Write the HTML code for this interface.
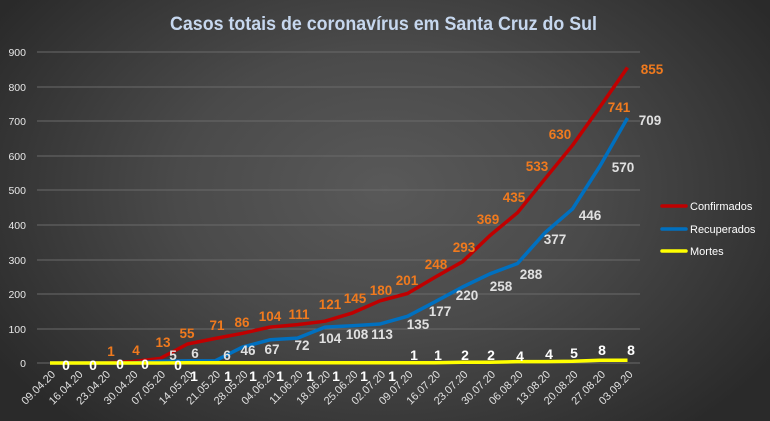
<!DOCTYPE html>
<html><head><meta charset="utf-8"><style>
html,body{margin:0;padding:0;width:770px;height:421px;overflow:hidden}
body{background:radial-gradient(ellipse 60% 75% at 50% 45%,#595959 0%,#4a4a4a 45%,#2a2a2a 100%)}
svg{display:block;font-family:"Liberation Sans",sans-serif}
</style></head><body>
<svg width="770" height="421" viewBox="0 0 770 421">
<text x="170" y="30" font-size="19" fill="#c6d7ee" font-weight="bold" textLength="427" lengthAdjust="spacingAndGlyphs">Casos totais de coronavírus  em Santa Cruz do Sul</text>
<g stroke="#6a6a6a" stroke-width="1">
<line x1="37" x2="640" y1="52" y2="52"/><line x1="37" x2="640" y1="87" y2="87"/><line x1="37" x2="640" y1="121" y2="121"/><line x1="37" x2="640" y1="156" y2="156"/><line x1="37" x2="640" y1="190" y2="190"/><line x1="37" x2="640" y1="225" y2="225"/><line x1="37" x2="640" y1="260" y2="260"/><line x1="37" x2="640" y1="294" y2="294"/><line x1="37" x2="640" y1="329" y2="329"/><line x1="37" x2="640" y1="363" y2="363"/>
</g>
<g font-size="10.5" fill="#e8e8e8" text-anchor="end">
<text x="26" y="56">900</text><text x="26" y="91">800</text><text x="26" y="125">700</text><text x="26" y="160">600</text><text x="26" y="194">500</text><text x="26" y="229">400</text><text x="26" y="264">300</text><text x="26" y="298">200</text><text x="26" y="333">100</text><text x="26" y="367">0</text>
</g>
<polyline fill="none" stroke="#c00000" stroke-width="3.5" stroke-linejoin="round" points="50,363 77.5,363 105,362.7 132.5,361.6 160,358.5 187.5,344 215,338.5 242.5,333.3 270,327.1 297.5,324.6 325,321.2 352.5,312.9 380,300.8 407.5,293.5 435,277.3 462.5,261.7 490,235.5 517.5,212.7 545,178.8 572.5,145.3 600,106.9 627.5,67.5"/>
<polyline fill="none" stroke="#0070c0" stroke-width="3.5" stroke-linejoin="round" points="50,363 77.5,363 105,363 132.5,363 160,361.3 187.5,360.9 215,360.9 242.5,347.1 270,339.8 297.5,338.1 325,327.1 352.5,325.7 380,324 407.5,316.3 435,301.8 462.5,287 490,273.8 517.5,263.5 545,232.7 572.5,208.9 600,166 627.5,118"/>
<polyline fill="none" stroke="#ffff00" stroke-width="3.5" points="50,363 77.5,363 105,363 132.5,363 160,363 187.5,362.7 215,362.7 242.5,362.7 270,362.7 297.5,362.7 325,362.7 352.5,362.7 380,362.7 407.5,362.7 435,362.7 462.5,362.3 490,362.3 517.5,361.6 545,361.6 572.5,361.3 600,360.2 627.5,360.2"/>
<g font-size="13.5" font-weight="bold" fill="#f07a1e" text-anchor="middle">
<text x="111" y="356">1</text><text x="136" y="355">4</text><text x="163" y="347">13</text><text x="187" y="338">55</text><text x="217" y="330">71</text><text x="242" y="327">86</text><text x="270" y="321">104</text><text x="299" y="319">111</text><text x="330" y="309">121</text><text x="355" y="303">145</text><text x="381" y="295">180</text><text x="407" y="285">201</text><text x="436" y="269">248</text><text x="464" y="252">293</text><text x="488" y="224">369</text><text x="514" y="202">435</text><text x="537" y="171">533</text><text x="560" y="139">630</text><text x="619" y="112">741</text><text x="652" y="74">855</text>
</g>
<g font-size="13.5" font-weight="bold" fill="#e0e0e0" text-anchor="middle">
<text x="173" y="360">5</text><text x="195" y="358">6</text><text x="227" y="360">6</text><text x="248" y="355">46</text><text x="272" y="354">67</text><text x="302" y="350">72</text><text x="330" y="343">104</text><text x="357" y="339">108</text><text x="382" y="339">113</text><text x="418" y="329">135</text><text x="440" y="316">177</text><text x="467" y="300">220</text><text x="501" y="291">258</text><text x="531" y="279">288</text><text x="555" y="244">377</text><text x="590" y="220">446</text><text x="623" y="172">570</text><text x="650" y="125">709</text>
</g>
<g font-size="14" font-weight="bold" fill="#ffffff" text-anchor="middle">
<text x="66" y="370">0</text><text x="93" y="370">0</text><text x="120" y="369">0</text><text x="145" y="369">0</text><text x="178" y="370">0</text>
<text x="194" y="381">1</text><text x="228" y="381">1</text><text x="253" y="381">1</text><text x="280" y="381">1</text><text x="310" y="381">1</text><text x="336" y="381">1</text><text x="364" y="381">1</text><text x="392" y="381">1</text>
<text x="414" y="360">1</text><text x="438" y="360">1</text><text x="465" y="360">2</text><text x="491" y="360">2</text><text x="520" y="361">4</text><text x="549" y="359">4</text><text x="574" y="358">5</text><text x="602" y="355">8</text><text x="631" y="355">8</text>
</g>
<g font-size="11" fill="#e0e0e0" text-anchor="end">
<text transform="translate(56,375) rotate(-45)">09.04.20</text>
<text transform="translate(83.5,375) rotate(-45)">16.04.20</text>
<text transform="translate(111,375) rotate(-45)">23.04.20</text>
<text transform="translate(138.5,375) rotate(-45)">30.04.20</text>
<text transform="translate(166,375) rotate(-45)">07.05.20</text>
<text transform="translate(193.5,375) rotate(-45)">14.05.20</text>
<text transform="translate(221,375) rotate(-45)">21.05.20</text>
<text transform="translate(248.5,375) rotate(-45)">28.05.20</text>
<text transform="translate(276,375) rotate(-45)">04.06.20</text>
<text transform="translate(303.5,375) rotate(-45)">11.06.20</text>
<text transform="translate(331,375) rotate(-45)">18.06.20</text>
<text transform="translate(358.5,375) rotate(-45)">25.06.20</text>
<text transform="translate(386,375) rotate(-45)">02.07.20</text>
<text transform="translate(413.5,375) rotate(-45)">09.07.20</text>
<text transform="translate(441,375) rotate(-45)">16.07.20</text>
<text transform="translate(468.5,375) rotate(-45)">23.07.20</text>
<text transform="translate(496,375) rotate(-45)">30.07.20</text>
<text transform="translate(523.5,375) rotate(-45)">06.08.20</text>
<text transform="translate(551,375) rotate(-45)">13.08.20</text>
<text transform="translate(578.5,375) rotate(-45)">20.08.20</text>
<text transform="translate(606,375) rotate(-45)">27.08.20</text>
<text transform="translate(633.5,375) rotate(-45)">03.09.20</text>
</g>
<g stroke-width="3.5" stroke-linecap="round">
<line x1="662" x2="686" y1="206" y2="206" stroke="#c00000"/>
<line x1="662" x2="686" y1="229" y2="229" stroke="#0070c0"/>
<line x1="662" x2="686" y1="251" y2="251" stroke="#ffff00"/>
</g>
<g font-size="11" fill="#ffffff">
<text x="690" y="210">Confirmados</text><text x="690" y="233">Recuperados</text><text x="690" y="255">Mortes</text>
</g>
</svg>
</body></html>
